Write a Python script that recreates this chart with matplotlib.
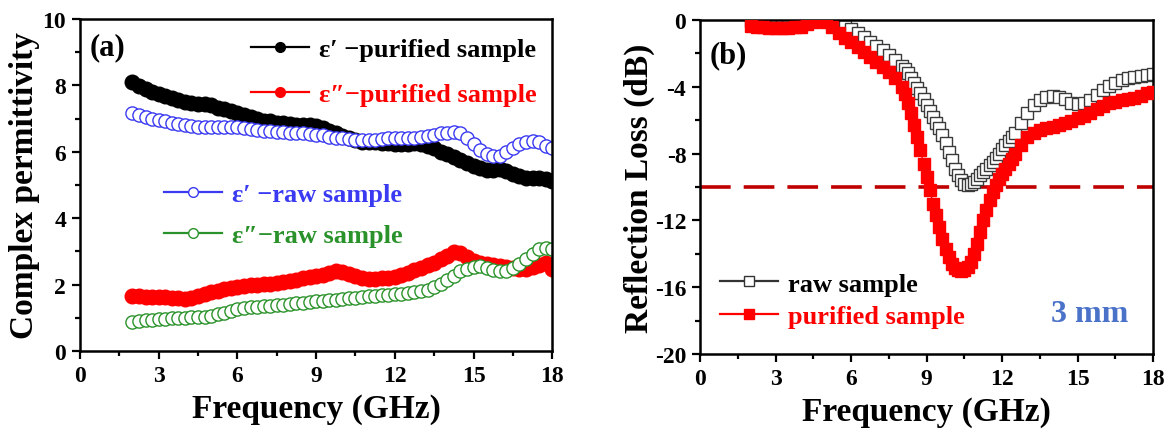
import matplotlib
matplotlib.use("Agg")
import matplotlib.pyplot as plt
from matplotlib.lines import Line2D
from matplotlib.ticker import MultipleLocator

# ---------------- data (a): complex permittivity ----------------
freq_a = [2.0, 2.25, 2.5, 2.75, 3.0, 3.25, 3.5, 3.75, 4.0, 4.25, 4.5, 4.75,
          5.0, 5.25, 5.5, 5.75, 6.0, 6.25, 6.5, 6.75, 7.0, 7.25, 7.5, 7.75,
          8.0, 8.25, 8.5, 8.75, 9.0, 9.25, 9.5, 9.75, 10.0, 10.25, 10.5, 10.75,
          11.0, 11.25, 11.5, 11.75, 12.0, 12.25, 12.5, 12.75, 13.0, 13.25, 13.5, 13.75,
          14.0, 14.25, 14.5, 14.75, 15.0, 15.25, 15.5, 15.75, 16.0, 16.25, 16.5, 16.75,
          17.0, 17.25, 17.5, 17.75, 18.0]
eps1_purified = [8.10, 7.98, 7.88, 7.80, 7.74, 7.68, 7.62, 7.56, 7.50, 7.46, 7.43, 7.44,
                 7.40, 7.33, 7.28, 7.24, 7.18, 7.10, 7.04, 6.98, 6.94, 6.92, 6.88, 6.86,
                 6.84, 6.82, 6.82, 6.80, 6.78, 6.72, 6.64, 6.56, 6.48, 6.40, 6.34, 6.30,
                 6.28, 6.28, 6.27, 6.25, 6.22, 6.22, 6.24, 6.26, 6.24, 6.18, 6.10, 6.00,
                 5.92, 5.84, 5.74, 5.66, 5.58, 5.50, 5.44, 5.46, 5.48, 5.42, 5.34, 5.26,
                 5.22, 5.20, 5.20, 5.18, 5.12]
eps2_purified = [1.65, 1.64, 1.63, 1.63, 1.62, 1.61, 1.60, 1.58, 1.57, 1.60, 1.65, 1.70,
                 1.76, 1.82, 1.86, 1.90, 1.93, 1.96, 1.98, 2.00, 2.01, 2.03, 2.05, 2.08,
                 2.11, 2.15, 2.19, 2.23, 2.26, 2.30, 2.35, 2.40, 2.38, 2.31, 2.25, 2.20,
                 2.17, 2.17, 2.19, 2.20, 2.22, 2.28, 2.36, 2.44, 2.51, 2.58, 2.66, 2.76,
                 2.86, 2.98, 2.94, 2.82, 2.72, 2.65, 2.62, 2.60, 2.56, 2.54, 2.51, 2.48,
                 2.46, 2.52, 2.60, 2.64, 2.48]
eps1_raw = [7.18, 7.12, 7.06, 7.00, 6.95, 6.92, 6.88, 6.84, 6.80, 6.78, 6.76, 6.76,
            6.76, 6.75, 6.76, 6.76, 6.74, 6.72, 6.70, 6.66, 6.64, 6.62, 6.60, 6.60,
            6.58, 6.58, 6.56, 6.54, 6.52, 6.50, 6.46, 6.42, 6.40, 6.38, 6.36, 6.35,
            6.34, 6.36, 6.38, 6.40, 6.40, 6.40, 6.40, 6.42, 6.44, 6.48, 6.52, 6.56,
            6.58, 6.60, 6.56, 6.40, 6.22, 6.06, 5.94, 5.86, 5.88, 5.98, 6.10, 6.22,
            6.30, 6.32, 6.30, 6.18, 6.10]
eps2_raw = [0.88, 0.90, 0.92, 0.94, 0.95, 0.97, 0.98, 0.99, 1.00, 1.01, 1.02, 1.03,
            1.05, 1.10, 1.15, 1.20, 1.25, 1.28, 1.31, 1.33, 1.35, 1.36, 1.38, 1.39,
            1.40, 1.43, 1.45, 1.48, 1.50, 1.51, 1.53, 1.54, 1.55, 1.58, 1.60, 1.63,
            1.65, 1.66, 1.68, 1.69, 1.70, 1.72, 1.75, 1.77, 1.80, 1.85, 1.92, 2.02,
            2.14, 2.27, 2.40, 2.48, 2.54, 2.55, 2.50, 2.44, 2.40, 2.42, 2.50, 2.62,
            2.76, 2.92, 3.06, 3.10, 3.06]

# ---------------- data (b): reflection loss ----------------
freq_b = [2.0, 2.25, 2.5, 2.75, 3.0, 3.25, 3.5, 3.75, 4.0, 4.25, 4.5, 4.75, 5.0,
          5.25, 5.5, 5.75, 6.0, 6.25, 6.5, 6.75, 7.0, 7.25, 7.5, 7.75, 8.0,
          8.125, 8.25, 8.375, 8.5, 8.625, 8.75, 8.875, 9.0, 9.125, 9.25, 9.375, 9.5,
          9.625, 9.75, 9.875, 10.0, 10.125, 10.25, 10.375, 10.5, 10.625, 10.75, 10.875, 11.0,
          11.125, 11.25, 11.375, 11.5, 11.625, 11.75, 11.875, 12.0, 12.125, 12.25, 12.375, 12.5,
          12.75, 13.0, 13.25, 13.5, 13.75, 14.0, 14.25, 14.5, 14.75, 15.0, 15.25, 15.5,
          15.75, 16.0, 16.25, 16.5, 16.75, 17.0, 17.25, 17.5, 17.75, 18.0]
rl_raw = [-0.05, -0.1, -0.15, -0.2, -0.2, -0.2, -0.2, -0.15, -0.1, -0.05, 0.0, 0.0, 0.0,
          -0.05, -0.15, -0.35, -0.55, -0.8, -1.05, -1.3, -1.55, -1.8, -2.1, -2.4, -2.75,
          -2.95, -3.2, -3.45, -3.75, -4.05, -4.4, -4.75, -5.1, -5.45, -5.8, -6.15, -6.5,
          -6.9, -7.4, -7.9, -8.4, -8.9, -9.3, -9.6, -9.8, -9.9, -9.85, -9.7, -9.5,
          -9.3, -9.1, -8.9, -8.7, -8.5, -8.25, -8.0, -7.75, -7.5, -7.25, -7.0, -6.75,
          -6.2, -5.6, -5.1, -4.8, -4.6, -4.55, -4.6, -4.75, -4.95, -5.05, -5.0, -4.8,
          -4.5, -4.2, -3.95, -3.75, -3.6, -3.5, -3.4, -3.35, -3.3, -3.25]
rl_purified = [-0.35, -0.4, -0.45, -0.5, -0.5, -0.5, -0.5, -0.45, -0.4, -0.25, -0.1, -0.05, -0.1,
               -0.4, -0.8, -1.1, -1.35, -1.6, -1.9, -2.2, -2.5, -2.8, -3.1, -3.5, -4.0,
               -4.45, -5.0, -5.6, -6.3, -7.0, -7.8, -8.6, -9.4, -10.2, -11.0, -11.7, -12.4,
               -13.1, -13.7, -14.2, -14.6, -14.85, -15.0, -15.05, -15.0, -14.8, -14.5, -14.0, -13.4,
               -12.7, -12.0, -11.4, -10.8, -10.3, -9.9, -9.55, -9.2, -8.9, -8.6, -8.3, -8.0,
               -7.5, -7.0, -6.75, -6.6, -6.5, -6.4, -6.3, -6.2, -6.05, -5.9, -5.75, -5.55,
               -5.35, -5.15, -5.0, -4.9, -4.8, -4.75, -4.65, -4.55, -4.4, -4.3]
rl_threshold = -10

# ---------------- style ----------------
plt.rcParams['font.family'] = ['Liberation Serif', 'DejaVu Serif']
plt.rcParams['font.weight'] = 'bold'
plt.rcParams['axes.unicode_minus'] = False

BLUE = '#3a3af2'
GREEN = '#2a922a'
RED = '#ff0000'
DKRED = '#c00000'

fig = plt.figure(figsize=(11.69, 4.35), dpi=100)
ax1 = fig.add_axes([0.0684, 0.191, 0.404, 0.763])
ax2 = fig.add_axes([0.599, 0.184, 0.3875, 0.768])


def style_axes(ax):
    for s in ax.spines.values():
        s.set_linewidth(1.8)
    ax.tick_params(which='both', direction='out', width=1.6, labelsize=17,
                   top=False, right=False, pad=4)
    ax.tick_params(which='major', length=6)
    ax.tick_params(which='minor', length=3.5)
    ax.set_xlim(0, 18)
    ax.xaxis.set_major_locator(MultipleLocator(3))
    ax.xaxis.set_minor_locator(MultipleLocator(1.5))
    ax.set_xlabel('Frequency (GHz)', fontsize=24, fontweight='bold', labelpad=5)
    for t in ax.get_xticklabels() + ax.get_yticklabels():
        t.set_fontweight('bold')


def legend_handle(color, marker, filled):
    return Line2D([], [], color=color, lw=1.6, marker=marker, ms=7,
                  mfc=color if filled else 'white', mec=color)


leg_prop = {'size': 19, 'weight': 'bold'}

# ---------------- (a) ----------------
ax = ax1
l_b, = ax.plot(freq_a, eps1_purified, '-o', color='black', ms=10.5, lw=1, label='ε′ −purified sample')
l_r, = ax.plot(freq_a, eps2_purified, '-o', color=RED, ms=10.5, lw=1, label='ε″−purified sample')
l_bl, = ax.plot(freq_a, eps1_raw, '-o', color=BLUE, mfc='white', mec=BLUE, ms=9.5, mew=1.0,
                lw=1, label='ε′ −raw sample')
l_g, = ax.plot(freq_a, eps2_raw, '-o', color=GREEN, mfc='white', mec=GREEN, ms=9.5, mew=1.0,
               lw=1, label='ε″−raw sample')
ax.set_ylim(0, 10)
ax.yaxis.set_major_locator(MultipleLocator(2))
ax.yaxis.set_minor_locator(MultipleLocator(1))
ax.set_ylabel('Complex permittivity', fontsize=24, fontweight='bold', labelpad=2)
style_axes(ax)
ax.text(0.02, 0.96, '(a)', transform=ax.transAxes, fontsize=22, fontweight='bold',
        va='top', ha='left')

leg1 = ax.legend([legend_handle('black', 'o', True), legend_handle(RED, 'o', True)],
                 [l_b.get_label(), l_r.get_label()], loc='upper right',
                 bbox_to_anchor=(0.99, 0.975), frameon=False, prop=leg_prop,
                 labelcolor=['black', RED], handlelength=2.2, handletextpad=0.4,
                 labelspacing=0.8, borderaxespad=0.0)
ax.add_artist(leg1)
ax.legend([legend_handle(BLUE, 'o', False), legend_handle(GREEN, 'o', False)],
          [l_bl.get_label(), l_g.get_label()], loc='center left',
          bbox_to_anchor=(0.155, 0.41), frameon=False, prop=leg_prop,
          labelcolor=[BLUE, GREEN], handlelength=2.2, handletextpad=0.4,
          labelspacing=0.65, borderaxespad=0.0)

# ---------------- (b) ----------------
ax = ax2
ax.axhline(rl_threshold, color=DKRED, lw=2.6, linestyle=(0, (8.5, 3.6)), zorder=1)
l_raw, = ax.plot(freq_b, rl_raw, '-s', color='#333333', mfc='white', mec='#3a3a3a',
                 ms=9, mew=1.0, lw=1, label='raw sample', zorder=2)
l_pur, = ax.plot(freq_b, rl_purified, '-s', color=RED, ms=9, lw=1,
                 label='purified sample', zorder=3)
ax.set_ylim(-20, 0)
ax.yaxis.set_major_locator(MultipleLocator(4))
ax.yaxis.set_minor_locator(MultipleLocator(2))
ax.set_ylabel('Reflection Loss (dB)', fontsize=24, fontweight='bold', labelpad=0)
style_axes(ax)
ax.text(0.02, 0.94, '(b)', transform=ax.transAxes, fontsize=22, fontweight='bold',
        va='top', ha='left')
ax.legend([legend_handle('#333333', 's', False), legend_handle(RED, 's', True)],
          [l_raw.get_label(), l_pur.get_label()], loc='lower left',
          bbox_to_anchor=(0.02, 0.045), frameon=False, prop=leg_prop,
          labelcolor=['black', RED], handlelength=2.2, handletextpad=0.4,
          labelspacing=0.35, borderaxespad=0.0)
ax.text(0.775, 0.12, '3 mm', transform=ax.transAxes, fontsize=23, fontweight='bold',
        color='#4a72c8', ha='left', va='center')

fig.savefig('out.png', dpi=100)
